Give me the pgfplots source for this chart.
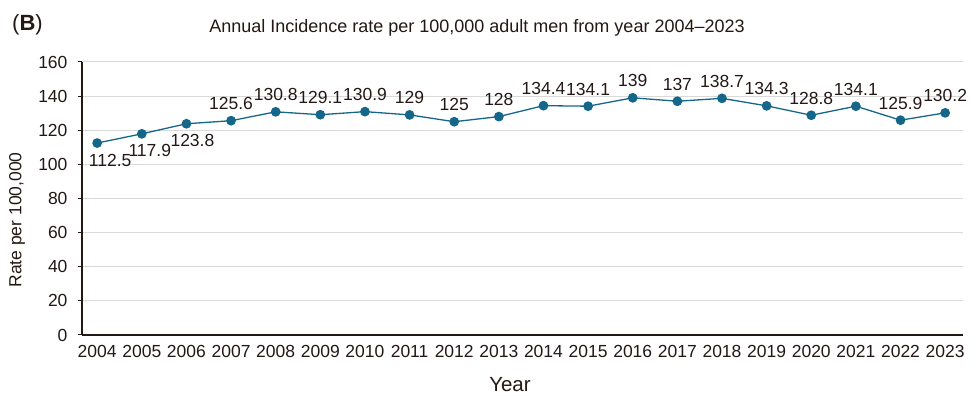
\documentclass[border=0pt]{standalone}
\usepackage{pgfplots}
\usepackage{pgfplotstable}
\pgfplotsset{compat=1.18}
\usepackage{fontspec}
\setmainfont{Liberation Sans}

\definecolor{ink}{HTML}{231815}
\definecolor{series}{HTML}{15678A}
\definecolor{gridc}{HTML}{D9D9D9}

% x index, year, rate per 100,000, label offsets (pt)
\pgfplotstableread{
x year rate dx dy
0  2004 112.5 13 -17
1  2005 117.9 8  -17
2  2006 123.8 6  -17
3  2007 125.6 0  17
4  2008 130.8 0  17
5  2009 129.1 0  17
6  2010 130.9 0  17
7  2011 129   0  17
8  2012 125   0  17
9  2013 128   0  17
10 2014 134.4 0  17
11 2015 134.1 0  17
12 2016 139   0  17
13 2017 137   0  17
14 2018 138.7 0  17
15 2019 134.3 0  17
16 2020 128.8 0  17
17 2021 134.1 0  17
18 2022 125.9 0  17
19 2023 130.2 0  17
}\ratedata

\begin{document}
\begin{tikzpicture}
\useasboundingbox (0pt,0pt) rectangle (978pt,396pt);
\begin{axis}[
  at={(82pt,61pt)}, anchor=south west,
  scale only axis, width=881pt, height=273pt,
  xmin=-0.34, xmax=19.4, ymin=0, ymax=160,
  axis x line*=bottom, axis y line*=left,
  axis line style={ink, line width=1.2pt},
  xtick=data,
  xticklabels={2004,2005,2006,2007,2008,2009,2010,2011,2012,2013,2014,2015,2016,2017,2018,2019,2020,2021,2022,2023},
  x tick style={draw=none},
  ytick={0,20,...,160},
  y tick style={ink, line width=1pt},
  tick align=outside, major tick length=4pt,
  ymajorgrids, grid style={gridc, line width=1pt},
  tick label style={font=\fontsize{17.5}{20}\selectfont, text=ink},
  xticklabel style={yshift=-3pt},
  yticklabel style={xshift=-7pt},
  /pgf/number format/assume math mode=true,
  clip=false,
]
\addplot[series, line width=1.3pt, mark=*, mark size=4.2pt,
  mark options={fill=series, draw=series},
  point meta=explicit symbolic,
  visualization depends on={\thisrow{dx} \as \dx},
  visualization depends on={\thisrow{dy} \as \dy},
  nodes near coords,
  nodes near coords style={anchor=center, xshift=\dx pt, yshift=\dy pt,
    font=\fontsize{17.5}{20}\selectfont, text=ink, inner sep=0pt},
] table[x=x, y=rate, meta=rate] {\ratedata};
\end{axis}
\node[font=\fontsize{18}{22}\selectfont, text=ink, anchor=base] at (477pt,363pt) {Annual Incidence rate per 100,000 adult men from year 2004–2023};
\node[font=\fontsize{22}{26}\selectfont, text=ink, anchor=base west, inner sep=0pt] at (12pt,365pt) {(\textbf{B})};
\node[font=\fontsize{17.5}{20}\selectfont, text=ink, rotate=90] at (17pt,176pt) {Rate per 100,000};
\node[font=\fontsize{20.5}{24}\selectfont, text=ink] at (510pt,11pt) {Year};
\end{tikzpicture}
\end{document}
